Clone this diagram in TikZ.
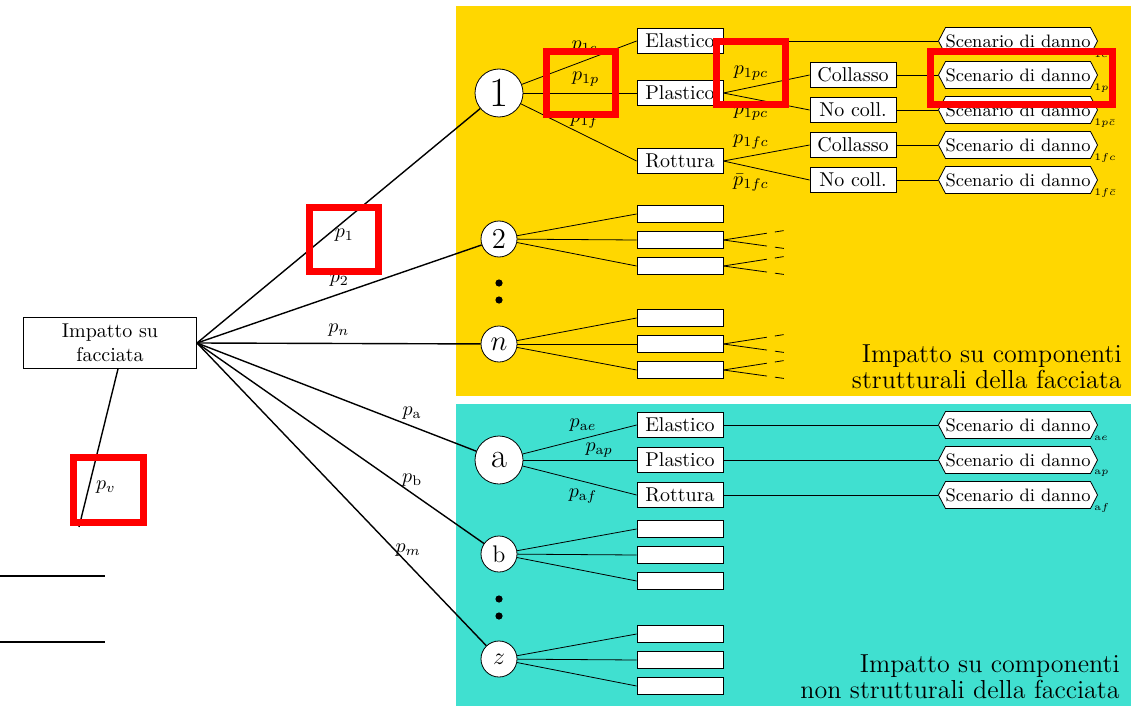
\documentclass[tikz,border=0pt]{standalone}
\usepackage{amsmath}
\usepackage{fontspec}
\usetikzlibrary{shapes.symbols,calc,positioning}
\definecolor{gialloz}{RGB}{255,215,0}
\definecolor{turch}{RGB}{64,224,208}

\begin{document}
\begin{tikzpicture}[x=0.5pt, y=-0.5pt,
  radice/.style={draw, align=center, text width=80pt, inner sep=3.3pt},
  grande/.style={draw, circle, fill=white, minimum size=24pt, inner sep=0pt, font=\LARGE},
  piccolo/.style={draw, circle, fill=white, minimum size=18pt, inner sep=0pt, font=\large},
  esito/.style={draw, fill=white, minimum width=43pt, minimum height=12.5pt, inner sep=2.5pt},
  vuoto/.style={draw, fill=white, minimum width=43pt, minimum height=8.5pt, inner sep=0pt},
  scenario/.style={draw, fill=white, signal, signal to=east and west, signal pointer angle=125, font=\small, inner xsep=0pt, inner ysep=2.5pt, minimum height=13.5pt},
  pedice/.style={anchor=west, inner sep=0pt, xshift=-2pt, yshift=-6.5pt},
  ramo/.style={line width=0.4pt},
  tronco/.style={line width=0.7pt},
  sospeso/.style={dash pattern=on 22pt off 4pt on 4.5pt off 10pt},
  evidenza/.style={draw=red, line width=3.5pt},
  didascalia/.style={align=right, font=\fontsize{13}{13}\selectfont, inner sep=0pt}
]
\useasboundingbox (0,0) rectangle (1140,706);

% sfondi
\fill[gialloz] (456,6) rectangle (1131,396);
\fill[turch] (456,404) rectangle (1131,706);

% nodo radice e componenti
\node[radice] (impatto) at (110,343) {Impatto su\\facciata};
\node[grande, font=\huge] (c1) at (499,93)  {1};
\node[piccolo, font=\Large] (c2) at (499,239) {2};
\node[piccolo, font=\Large] (cn) at (499,344) {$n$};
\node[grande]  (ca) at (499,460) {a};
\node[piccolo] (cb) at (499,554) {b};
\node[piccolo] (cz) at (499,659) {$z$};
\fill (499,283) circle (1.8pt);
\fill (499,300) circle (1.8pt);
\fill (499,599) circle (1.8pt);
\fill (499,616) circle (1.8pt);

% componente 1
\node[esito] (ela1) at (680,41)  {Elastico};
\node[esito] (pla1) at (680,93)  {Plastico};
\node[esito] (rot1) at (680,161) {Rottura};
\node[esito] (col1) at (853,75)  {Collasso};
\node[esito] (noc1) at (853,110) {No coll.};
\node[esito] (col2) at (853,145) {Collasso};
\node[esito] (noc2) at (853,180) {No coll.};
\node[scenario, label={[pedice]east:{$\scriptscriptstyle 1e$}}]        (s1e)   at (1018,41)  {Scenario di danno};
\node[scenario, label={[pedice]east:{$\scriptscriptstyle 1pc$}}]       (s1pc)  at (1018,75)  {Scenario di danno};
\node[scenario, label={[pedice]east:{$\scriptscriptstyle 1p\bar c$}}]  (s1pnc) at (1018,110) {Scenario di danno};
\node[scenario, label={[pedice]east:{$\scriptscriptstyle 1fc$}}]       (s1fc)  at (1018,145) {Scenario di danno};
\node[scenario, label={[pedice]east:{$\scriptscriptstyle 1f\bar c$}}]  (s1fnc) at (1018,180) {Scenario di danno};

% componenti 2 ... n
\node[vuoto] (b21) at (680,214) {};
\node[vuoto] (b22) at (680,240) {};
\node[vuoto] (b23) at (680,266) {};
\node[vuoto] (bn1) at (680,318) {};
\node[vuoto] (bn2) at (680,344) {};
\node[vuoto] (bn3) at (680,370) {};

% componente a
\node[esito] (elaa) at (680,425) {Elastico};
\node[esito] (plaa) at (680,460) {Plastico};
\node[esito] (rota) at (680,495) {Rottura};
\node[scenario, label={[pedice]east:{$\scriptscriptstyle \mathrm{a}e$}}] (sae) at (1018,425) {Scenario di danno};
\node[scenario, label={[pedice]east:{$\scriptscriptstyle \mathrm{a}p$}}] (sap) at (1018,460) {Scenario di danno};
\node[scenario, label={[pedice]east:{$\scriptscriptstyle \mathrm{a}f$}}] (saf) at (1018,495) {Scenario di danno};

% componenti b ... z
\node[vuoto] (bb1) at (680,529) {};
\node[vuoto] (bb2) at (680,555) {};
\node[vuoto] (bb3) at (680,581) {};
\node[vuoto] (bz1) at (680,634) {};
\node[vuoto] (bz2) at (680,660) {};
\node[vuoto] (bz3) at (680,686) {};

% rami principali
\coordinate (vfine) at (79,527);
\draw[tronco] (impatto.east) -- (c1) node[pos=.52, below] {$p_1$};
\draw[tronco] (impatto.east) -- (c2) node[pos=.5, above] {$p_2$};
\draw[tronco] (impatto.east) -- (cn) node[pos=.5, above] {$p_n$};
\draw[tronco] (impatto.east) -- (ca) node[pos=.77, above] {$p_{\mathrm{a}}$};
\draw[tronco] (impatto.east) -- (cb) node[pos=.75, above] {$p_{\mathrm{b}}$};
\draw[tronco] (impatto.east) -- (cz) node[pos=.73, above] {$p_m$};
\draw[tronco] ([xshift=4pt]impatto.south) -- (vfine) node[pos=.75, right] {$p_v$};

% linee a sinistra
\coordinate (la1) at (0,576);
\coordinate (lb1) at (105,576);
\coordinate (la2) at (0,642);
\coordinate (lb2) at (105,642);
\draw[thick] (la1) -- (lb1);
\draw[thick] (la2) -- (lb2);

% rami componente 1
\draw[ramo] (c1) -- (ela1.west) node[pos=.55, above] {$p_{1e}$};
\draw[ramo] (c1) -- (pla1.west) node[pos=.55, above] {$p_{1p}$};
\draw[ramo] (c1) -- (rot1.west) node[pos=.55, above] {$p_{1f}$};
\draw[ramo] (pla1.east) -- (col1.west) node[pos=.32, above] {$p_{1pc}$};
\draw[ramo] (pla1.east) -- (noc1.west) node[pos=.32, below] {$p_{1pc}$};
\draw[ramo] (rot1.east) -- (col2.west) node[pos=.32, above] {$p_{1fc}$};
\draw[ramo] (rot1.east) -- (noc2.west) node[pos=.32, below] {$\bar{p}_{1fc}$};
\draw[ramo] (ela1.east) -- (s1e.west);
\draw[ramo] (col1.east) -- (s1pc.west);
\draw[ramo] (noc1.east) -- (s1pnc.west);
\draw[ramo] (col2.east) -- (s1fc.west);
\draw[ramo] (noc2.east) -- (s1fnc.west);

% rami componente a
\draw[ramo] (ca) -- (elaa.west) node[pos=.53, above] {$p_{\mathrm{a}e}$};
\draw[ramo] (ca) -- (plaa.west) node[pos=.67, above, inner sep=1pt] {$p_{\mathrm{a}p}$};
\draw[ramo] (ca) -- (rota.west) node[pos=.53, below] {$p_{\mathrm{a}f}$};
\draw[ramo] (elaa.east) -- (sae.west);
\draw[ramo] (plaa.east) -- (sap.west);
\draw[ramo] (rota.east) -- (saf.west);

% rami vuoti
\foreach \c/\b in {c2/b2, cn/bn, cb/bb, cz/bz}
  \foreach \i in {1,2,3}
    \draw[ramo] (\c) -- (\b\i.west);
\foreach \b in {b22,b23,bn2,bn3} {
  \coordinate (\b-su)  at ($(\b.east)+(61,-9.5)$);
  \coordinate (\b-giu) at ($(\b.east)+(61,8.5)$);
  \draw[ramo, sospeso] (\b.east) -- (\b-su);
  \draw[ramo, sospeso] (\b.east) -- (\b-giu);
}

% didascalie
\node[didascalia, anchor=east] (capt1) at (1122,367) {Impatto su componenti\\strutturali della facciata};
\node[didascalia, anchor=east] (capt2) at (1120,677) {Impatto su componenti\\non strutturali della facciata};

% evidenziazioni
\draw[evidenza] (546.5,51.5) rectangle (615.5,114.5);
\draw[evidenza] (716.5,41.5) rectangle (785.5,104.5);
\draw[evidenza] (930.5,51.5) rectangle (1112.5,104.5);
\draw[evidenza] (309.5,207.5) rectangle (378.5,271.5);
\draw[evidenza] (73.5,457.5) rectangle (143.5,522.5);
\end{tikzpicture}
\end{document}
